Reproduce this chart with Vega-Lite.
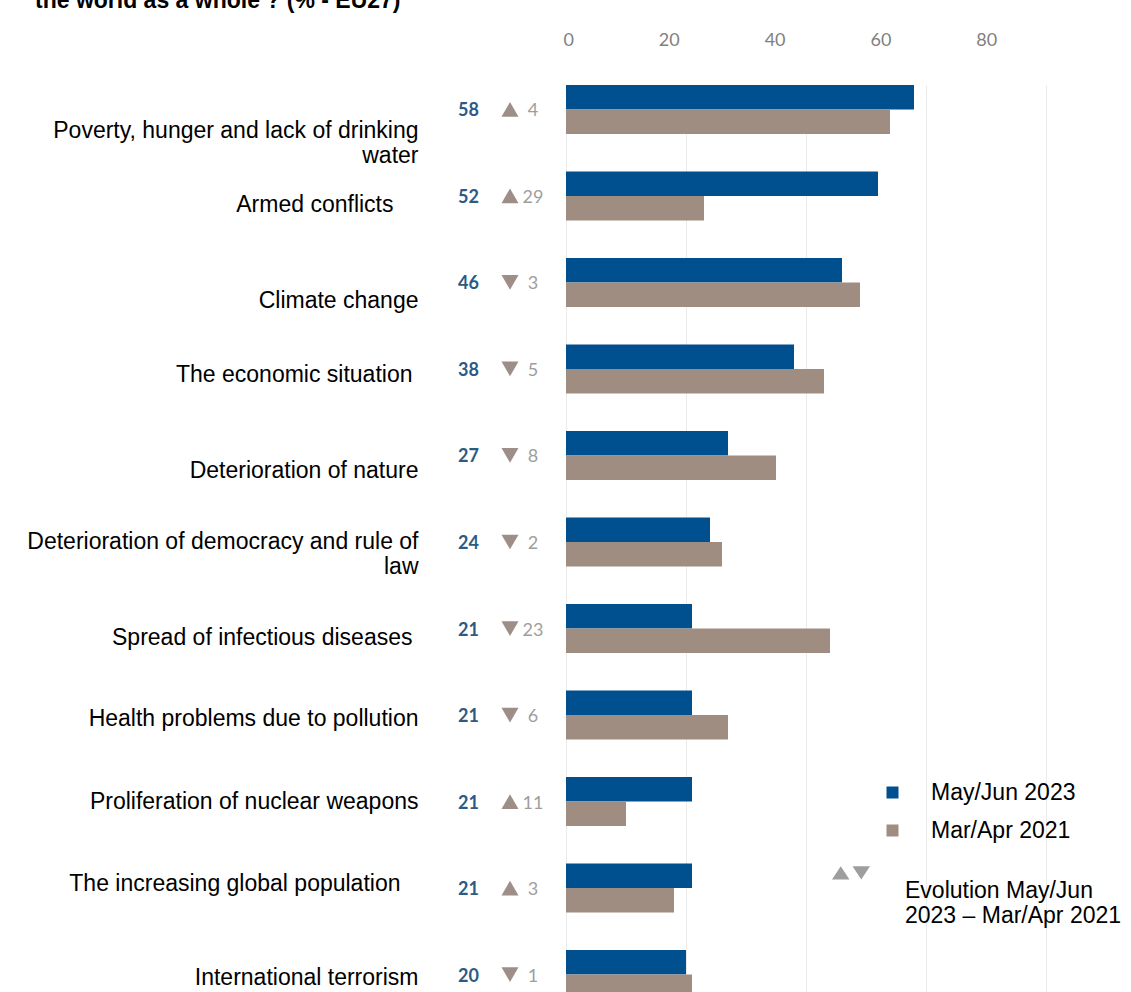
{
  "$schema": "https://vega.github.io/schema/vega-lite/v6.json",
  "autosize": "none",
  "padding": {"left": 566, "top": 63, "right": 25, "bottom": 0},
  "width": 540,
  "height": 929,
  "background": "white",
  "title": {
    "text": "the world as a whole ? (% - EU27)",
    "anchor": "start",
    "frame": "group",
    "dx": -531,
    "offset": 0,
    "baseline": "alphabetic",
    "font": "Liberation Sans",
    "fontSize": 23,
    "fontWeight": "bold",
    "color": "black"
  },
  "config": {"view": {"stroke": null}},
  "data": {
    "values": [
      {"category": "Poverty, hunger and lack of drinking water", "May/Jun 2023": 58, "Mar/Apr 2021": 54, "change": 4, "dir": "up"},
      {"category": "Armed conflicts", "May/Jun 2023": 52, "Mar/Apr 2021": 23, "change": 29, "dir": "up"},
      {"category": "Climate change", "May/Jun 2023": 46, "Mar/Apr 2021": 49, "change": 3, "dir": "down"},
      {"category": "The economic situation", "May/Jun 2023": 38, "Mar/Apr 2021": 43, "change": 5, "dir": "down"},
      {"category": "Deterioration of nature", "May/Jun 2023": 27, "Mar/Apr 2021": 35, "change": 8, "dir": "down"},
      {"category": "Deterioration of democracy and rule of law", "May/Jun 2023": 24, "Mar/Apr 2021": 26, "change": 2, "dir": "down"},
      {"category": "Spread of infectious diseases", "May/Jun 2023": 21, "Mar/Apr 2021": 44, "change": 23, "dir": "down"},
      {"category": "Health problems due to pollution", "May/Jun 2023": 21, "Mar/Apr 2021": 27, "change": 6, "dir": "down"},
      {"category": "Proliferation of nuclear weapons", "May/Jun 2023": 21, "Mar/Apr 2021": 10, "change": 11, "dir": "up"},
      {"category": "The increasing global population", "May/Jun 2023": 21, "Mar/Apr 2021": 18, "change": 3, "dir": "up"},
      {"category": "International terrorism", "May/Jun 2023": 20, "Mar/Apr 2021": 21, "change": 1, "dir": "down"}
    ]
  },
  "layer": [
    {
      "transform": [{"fold": ["May/Jun 2023", "Mar/Apr 2021"], "as": ["series", "pct"]}],
      "mark": {"type": "bar"},
      "encoding": {
        "x": {
          "field": "pct",
          "type": "quantitative",
          "scale": {"domain": [0, 90], "nice": false},
          "axis": {
            "orient": "top",
            "title": null,
            "values": [0, 20, 40, 60, 80],
            "grid": true,
            "gridColor": "#ebebeb",
            "gridWidth": 1,
            "domain": false,
            "ticks": false,
            "labelFont": "Lato",
            "labelFontSize": 18,
            "labelColor": "#7f7f7f",
            "labelPadding": 14,
            "labelOffset": {"expr": "-3 - 0.71 * datum.value"}
          }
        },
        "y": {
          "field": "category",
          "type": "nominal",
          "sort": null,
          "scale": {"range": [22, 936], "paddingInner": 0.434, "paddingOuter": 0},
          "axis": {
            "title": null,
            "domain": false,
            "ticks": false,
            "grid": false,
            "labelFont": "Liberation Sans",
            "labelFontSize": 23,
            "labelColor": "black",
            "labelAlign": "right",
            "labelPadding": {"expr": "datum.value == 'Armed conflicts' ? 173 : datum.value == 'The economic situation' || datum.value == 'Spread of infectious diseases' ? 154 : datum.value == 'The increasing global population' ? 166 : 148"},
            "labelLimit": 600,
            "labelOffset": {"expr": "datum.value == 'Poverty, hunger and lack of drinking water' ? 22 : datum.value == 'Climate change' ? 19 : datum.value == 'Deterioration of nature' ? 16 : datum.value == 'Deterioration of democracy and rule of law' ? 0 : datum.value == 'Proliferation of nuclear weapons' ? 0 : datum.value == 'The increasing global population' ? -4 : datum.value == 'International terrorism' ? 3 : datum.value == 'Health problems due to pollution' ? 4 : datum.value == 'The economic situation' ? 6 : 9"},
            "labelLineHeight": 25,
            "labelExpr": "datum.label == 'Poverty, hunger and lack of drinking water' ? ['Poverty, hunger and lack of drinking', 'water'] : datum.label == 'Deterioration of democracy and rule of law' ? ['Deterioration of democracy and rule of', 'law'] : datum.label"
          }
        },
        "yOffset": {
          "field": "series",
          "type": "nominal",
          "sort": ["May/Jun 2023", "Mar/Apr 2021"],
          "scale": {"paddingInner": 0, "paddingOuter": 0}
        },
        "color": {
          "field": "series",
          "type": "nominal",
          "scale": {"domain": ["May/Jun 2023", "Mar/Apr 2021"], "range": ["#004F8E", "#A08D81"]},
          "legend": {
            "orient": "none",
            "legendX": 315,
            "legendY": 718,
            "title": null,
            "padding": 0,
            "symbolType": "square",
            "symbolSize": 144,
            "labelFont": "Liberation Sans",
            "labelFontSize": 23,
            "labelColor": "black",
            "labelOffset": 27,
            "rowPadding": 14
          }
        }
      }
    },
    {
      "mark": {"type": "text", "align": "right", "baseline": "middle", "dx": -87, "dy": 2, "font": "Lato", "fontSize": 18, "fontWeight": "bold", "color": "#2C5A84"},
      "encoding": {
        "x": {"datum": 0, "type": "quantitative", "title": null},
        "y": {"field": "category", "type": "nominal", "sort": null, "title": null},
        "text": {"field": "May/Jun 2023", "type": "quantitative"}
      }
    },
    {
      "mark": {"type": "point", "filled": true, "opacity": 1, "size": 290, "color": "#9D8F87"},
      "encoding": {
        "x": {"datum": 0, "type": "quantitative", "title": null},
        "xOffset": {"value": -56},
        "y": {"field": "category", "type": "nominal", "sort": null, "title": null},
        "shape": {
          "field": "dir",
          "type": "nominal",
          "scale": {"domain": ["up", "down"], "range": ["triangle-up", "triangle-down"]},
          "legend": null
        }
      }
    },
    {
      "mark": {"type": "text", "align": "center", "baseline": "middle", "dx": -33, "dy": 2, "font": "Lato", "fontSize": 18, "color": "#9E9E9E"},
      "encoding": {
        "x": {"datum": 0, "type": "quantitative", "title": null},
        "y": {"field": "category", "type": "nominal", "sort": null, "title": null},
        "text": {"field": "change", "type": "quantitative"},
        "opacity": {
          "datum": "Evolution",
          "type": "nominal",
          "scale": {"domain": ["Evolution"], "range": [1]},
          "legend": {
            "orient": "none",
            "legendX": 266,
            "legendY": 798,
            "title": null,
            "padding": 0,
            "symbolType": "M-1,-0.02L-0.54,-0.72L-0.08,-0.02Z M0.08,-0.72L1,-0.72L0.54,-0.02Z",
            "symbolSize": 1444,
            "symbolFillColor": "#A9A3A0",
            "symbolStrokeColor": "#A9A3A0",
            "symbolStrokeWidth": 0,
            "symbolOpacity": 1,
            "labelFont": "Liberation Sans",
            "labelFontSize": 23,
            "labelColor": "black",
            "labelBaseline": "top",
            "labelOffset": 35,
            "labelLimit": 400,
            "labelExpr": "['Evolution May/Jun', '2023 – Mar/Apr 2021']"
          }
        }
      }
    }
  ]
}
